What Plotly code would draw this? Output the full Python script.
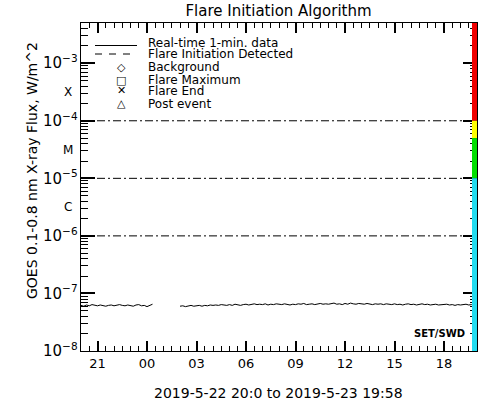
import numpy as np
import pandas as pd
import plotly.graph_objects as go

# GOES long-channel flux, 10-min samples starting 2019-05-22 20:00 (units of 1e-8 W/m^2)
# None = data gap
FLUX_E8 = [
    6.2, 6.0, 6.3, 6.1, 6.4, 6.2, 6.1, 6.3, 6.2, 6.0, 6.2, 6.3, 6.1, 6.2,
    6.4, 6.2, 6.1, 6.3, 6.2, 6.0, 6.3, 6.4, 6.1, 6.2, 5.9, 6.3, 6.5,
    None, None, None, None, None, None, None, None, None,
    6.0, 6.1, 5.9, 6.0, 6.2, 6.0,
    6.1, 6.2, 6.0, 6.2, 6.1, 6.3,
    6.2, 6.3, 6.2, 6.4, 6.3, 6.2,
    6.4, 6.2, 6.5, 6.3, 6.2, 6.4,
    6.5, 6.3, 6.4, 6.6, 6.4, 6.5,
    6.4, 6.6, 6.3, 6.5, 6.4, 6.6,
    6.5, 6.4, 6.6, 6.5, 6.3, 6.5,
    6.4, 6.6, 6.5, 6.7, 6.4, 6.5,
    6.6, 6.4, 6.5, 6.7, 6.5, 6.6,
    6.5, 6.7, 6.8, 6.5, 6.6, 6.4,
    6.7, 6.5, 6.8, 6.6, 6.5, 6.7,
    6.6, 6.5, 6.7, 6.5, 6.4, 6.6,
    6.5, 6.6, 6.4, 6.6, 6.5, 6.4,
    6.6, 6.4, 6.5, 6.3, 6.5, 6.6,
    6.4, 6.5, 6.3, 6.4, 6.6, 6.4,
    6.5, 6.3, 6.4, 6.5, 6.3, 6.4,
    6.4, 6.5, 6.3, 6.4, 6.2, 6.4,
    6.3, 6.4, 6.5, 6.3, 6.4, 6.3,
]
START = "2019-05-22 20:00"
END = "2019-05-23 20:00"
TIMES = [t.strftime("%Y-%m-%d %H:%M") for t in
         pd.date_range(START, periods=len(FLUX_E8), freq="10min")]
FLUX = [v * 1e-8 if v is not None else None for v in FLUX_E8]

THRESHOLDS = [1e-4, 1e-5, 1e-6]
CLASS_LABELS = ["X", "M", "C"]
CLASS_MID_LOG = [-3.5, -4.5, -5.5]
# colour strip on the right edge: (low, high, colour)
BANDS = [(1e-4, 5e-3, "#f00000"), (5e-5, 1e-4, "#ffff00"),
         (1e-5, 5e-5, "#00e000"), (1e-8, 1e-5, "#22dcf0")]
LEGEND_TEXT = ["Real-time 1-min. data", "Flare Initiation Detected",
               "Background", "Flare Maximum", "Flare End", "Post event"]
LEGEND_SYMBOLS = ["\u25c7", "\u25a1", "\u2715", "\u25b3"]

FONT = "DejaVu Sans"
W, H = 500, 400
L, R, T, B = 81, 23, 23, 49
PW, PH = W - L - R, H - T - B


def px(x):
    return (x - L) / PW


def py(y):
    return (H - B - y) / PH


fig = go.Figure()
fig.add_trace(go.Scatter(x=TIMES, y=FLUX, mode="lines",
                         line=dict(color="black", width=1), connectgaps=False))
for th in THRESHOLDS:
    fig.add_trace(go.Scatter(x=[START, END], y=[th, th], mode="lines",
                             line=dict(color="black", width=1, dash="8px,3px,2px,3px")))

shapes = []
for lo, hi, col in BANDS:
    shapes.append(dict(type="rect", xref="paper", yref="y", x0=px(472), x1=1,
                       y0=lo, y1=hi, fillcolor=col, line_width=0, layer="above"))
# legend lines
shapes.append(dict(type="line", xref="paper", yref="paper", x0=px(95), x1=px(137),
                   y0=py(45.5), y1=py(45.5), line=dict(color="black", width=1)))
shapes.append(dict(type="line", xref="paper", yref="paper", x0=px(95), x1=px(137),
                   y0=py(54), y1=py(54), line=dict(color="black", width=1, dash="7px,7px")))

ann = []
for txt, y in zip(LEGEND_TEXT, [43, 54, 67, 80, 91, 103.5]):
    ann.append(dict(text=txt, xref="paper", yref="paper", x=px(146), y=py(y),
                    xanchor="left", yanchor="middle", showarrow=False,
                    font=dict(size=12, color="black")))
for sym, y in zip(LEGEND_SYMBOLS, [67, 80, 91, 103.5]):
    ann.append(dict(text=sym, xref="paper", yref="paper", x=px(121), y=py(y),
                    xanchor="center", yanchor="middle", showarrow=False,
                    font=dict(size=11, color="black")))
for lab, lg in zip(CLASS_LABELS, CLASS_MID_LOG):
    ann.append(dict(text=lab, xref="paper", yref="y", x=px(68), y=lg,
                    xanchor="center", yanchor="middle", showarrow=False,
                    font=dict(size=12, color="black")))
ann.append(dict(text="GOES 0.1-0.8 nm X-ray Flux, W/m^2", xref="paper", yref="paper",
                x=px(32), y=py(171), textangle=-90, xanchor="center", yanchor="middle",
                showarrow=False, font=dict(size=14, color="black")))
ann.append(dict(text="<b>SET/SWD</b>", xref="paper", yref="paper", x=px(467), y=py(333),
                xanchor="right", yanchor="middle", showarrow=False,
                font=dict(size=10, color="black")))
ann.append(dict(text="2019-5-22 20:0 to 2019-5-23 19:58", xref="paper", yref="paper",
                x=px(278), y=py(393), xanchor="center", yanchor="middle",
                showarrow=False, font=dict(size=14, color="black")))

fig.update_layout(
    width=W, height=H,
    margin=dict(l=L, r=R, t=T, b=B),
    paper_bgcolor="white", plot_bgcolor="white",
    font=dict(family=FONT, color="black", size=13),
    showlegend=False,
    title=dict(text="Flare Initiation Algorithm", x=px(278.5), xref="paper", xanchor="center",
               y=1 - 11 / H, yanchor="middle", font=dict(size=15, color="black")),
    shapes=shapes,
    annotations=ann,
    xaxis=dict(
        type="date", range=[START, END], tick0="2019-05-22 21:00", dtick=3 * 3600 * 1000,
        tickformat="%H", ticks="inside", ticklen=10, tickcolor="black", tickwidth=2,
        showline=True, linecolor="black", linewidth=1, mirror="ticks",
        showgrid=False, zeroline=False,
        minor=dict(dtick=1800 * 1000, ticks="inside", ticklen=5, tickcolor="black", tickwidth=1,
                   showgrid=False),
    ),
    yaxis=dict(
        type="log", range=[-8, np.log10(5e-3)], dtick=1, exponentformat="power",
        ticks="inside", ticklen=14, tickcolor="black", tickwidth=2,
        showline=True, linecolor="black", linewidth=1, mirror="ticks",
        showgrid=False, zeroline=False, tickfont=dict(size=12),
        minor=dict(dtick="D1", ticks="inside", ticklen=7, tickcolor="black", tickwidth=1,
                   showgrid=False),
    ),
)

fig.write_html("out.html", config={"displayModeBar": False},
               post_script="document.body.style.margin='0px';")
